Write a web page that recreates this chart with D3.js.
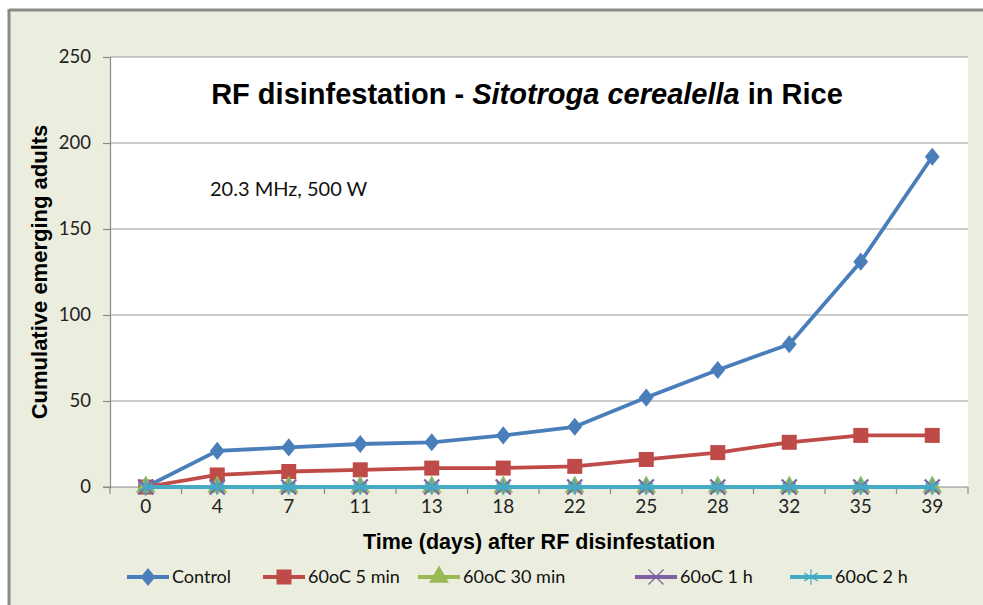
<!DOCTYPE html>
<html>
<head>
<meta charset="utf-8">
<script src="https://cdn.jsdelivr.net/npm/d3@7"></script>
<style>
  body { margin: 0; background: #fff; }
  svg { display: block; }
</style>
</head>
<body>
<div id="chart"></div>
<script>
// data
var days = ["0", "4", "7", "11", "13", "18", "22", "25", "28", "32", "35", "39"];
var seriesNames = ["Control", "60oC 5 min", "60oC 30 min", "60oC 1 h", "60oC 2 h"];
var control = [0, 21, 23, 25, 26, 30, 35, 52, 68, 83, 131, 192];
var min5 = [0, 7, 9, 10, 11, 11, 12, 16, 20, 26, 30, 30];
var min30 = [0, 0, 0, 0, 0, 0, 0, 0, 0, 0, 0, 0];
var hour1 = [0, 0, 0, 0, 0, 0, 0, 0, 0, 0, 0, 0];
var hour2 = [0, 0, 0, 0, 0, 0, 0, 0, 0, 0, 0, 0];
var yTicks = [0, 50, 100, 150, 200, 250];

var colors = ["#4A7EBB", "#BE4B48", "#98B954", "#7D60A0", "#46AAC5"];
var symbols = ["diamond", "square", "triangle", "x", "star"];
var allSeries = [control, min5, min30, hour1, hour2];

var W = 983, H = 605,
  pLeft = 110, pRight = 968, pTop = 57, pBottom = 487;

var svg = d3.select("#chart").append("svg")
  .attr("width", W)
  .attr("height", H);

// background and frame
svg.append("rect").attr("x", 0).attr("y", 0).attr("width", W).attr("height", H).attr("fill", "#fff");
svg.append("rect").attr("x", 9).attr("y", 10).attr("width", W - 9).attr("height", H - 10)
  .attr("fill", "#EBEEDE");
svg.append("line").attr("x1", 9).attr("x2", W).attr("y1", 10).attr("y2", 10)
  .attr("stroke", "#8a8a8a").attr("stroke-width", 3);
svg.append("line").attr("x1", 9).attr("x2", 9).attr("y1", 9).attr("y2", H)
  .attr("stroke", "#8a8a8a").attr("stroke-width", 3);

svg.append("rect").attr("x", pLeft).attr("y", pTop)
  .attr("width", pRight - pLeft).attr("height", pBottom - pTop).attr("fill", "#fff");

var x = d3.scaleBand().domain(days).range([pLeft, pRight]);
var y = d3.scaleLinear().domain([0, 250]).range([pBottom, pTop]);

// gridlines
svg.append("g").selectAll("line").data(yTicks.filter(function (d) { return d > 0; }))
  .enter().append("line")
  .attr("x1", pLeft).attr("x2", pRight)
  .attr("y1", function (d) { return y(d); }).attr("y2", function (d) { return y(d); })
  .attr("stroke", "#9a9a9a").attr("stroke-width", 1.2);

// y axis
var yAxis = svg.append("g").attr("transform", "translate(" + pLeft + ",0)")
  .call(d3.axisLeft(y).tickValues(yTicks).tickSize(7).tickPadding(12));
yAxis.select(".domain").attr("stroke", "#8a8a8a").attr("stroke-width", 1.2);
yAxis.selectAll(".tick line").attr("stroke", "#8a8a8a").attr("stroke-width", 1.2);
yAxis.selectAll("text").attr("font-family", "Lato, 'Open Sans', sans-serif")
  .attr("font-size", 18.5).attr("fill", "#222");

// x axis: ticks between categories
var xg = svg.append("g").attr("transform", "translate(0," + pBottom + ")");
xg.append("line").attr("x1", pLeft - 7).attr("x2", pRight).attr("y1", 0).attr("y2", 0)
  .attr("stroke", "#8a8a8a").attr("stroke-width", 1.2);
xg.selectAll("line.tk").data(d3.range(days.length + 1)).enter().append("line")
  .attr("class", "tk")
  .attr("x1", function (i) { return pLeft + i * x.step(); })
  .attr("x2", function (i) { return pLeft + i * x.step(); })
  .attr("y1", 0).attr("y2", 7)
  .attr("stroke", "#8a8a8a").attr("stroke-width", 1.2);
xg.selectAll("text").data(days).enter().append("text")
  .attr("x", function (d) { return x(d) + x.bandwidth() / 2; })
  .attr("y", 26)
  .attr("text-anchor", "middle")
  .attr("font-family", "Lato, sans-serif")
  .attr("font-size", 19).attr("fill", "#222")
  .text(function (d) { return d; });

// series lines
var line = d3.line()
  .x(function (d, i) { return x(days[i]) + x.bandwidth() / 2; })
  .y(function (d) { return y(d); });

function symbolPath(kind) {
  if (kind === "diamond") { return d3.symbol().type(d3.symbolDiamond2).size(115)(); }
  if (kind === "square") { return d3.symbol().type(d3.symbolSquare).size(225)(); }
  if (kind === "triangle") { return d3.symbol().type(d3.symbolTriangle).size(170)(); }
  if (kind === "x") { return d3.symbol().type(d3.symbolX).size(150)(); }
  return d3.symbol().type(d3.symbolAsterisk).size(170)();
}

allSeries.forEach(function (vals, s) {
  var g = svg.append("g");
  g.append("path").datum(vals).attr("d", line)
    .attr("fill", "none").attr("stroke", colors[s]).attr("stroke-width", 3.8)
    .attr("stroke-linejoin", "round");
  var filled = symbols[s] !== "x" && symbols[s] !== "star";
  g.selectAll("path.m").data(vals).enter().append("path")
    .attr("class", "m")
    .attr("transform", function (d, i) {
      return "translate(" + (x(days[i]) + x.bandwidth() / 2) + "," + y(d) + ")" +
        (symbols[s] === "diamond" ? " scale(1.1,1.35)" : "");
    })
    .attr("d", symbolPath(symbols[s]))
    .attr("fill", filled ? colors[s] : "none")
    .attr("stroke", colors[s])
    .attr("stroke-width", filled ? 0 : 2.2);
});

// titles
var title = svg.append("text").attr("x", 527).attr("y", 104)
  .attr("text-anchor", "middle")
  .attr("font-family", "'Liberation Sans', Arial, sans-serif")
  .attr("font-size", 29).attr("font-weight", "bold").attr("fill", "#000");
title.append("tspan").text("RF disinfestation - ");
title.append("tspan").attr("font-style", "italic").text("Sitotroga cerealella");
title.append("tspan").text(" in Rice");

svg.append("text").attr("x", 210).attr("y", 196)
  .attr("font-family", "Lato, 'Open Sans', sans-serif")
  .attr("font-size", 20).attr("fill", "#111")
  .text("20.3 MHz, 500 W");

svg.append("text")
  .attr("transform", "translate(47," + ((pTop + pBottom) / 2) + ") rotate(-90)")
  .attr("text-anchor", "middle")
  .attr("font-family", "'Liberation Sans', Arial, sans-serif")
  .attr("font-size", 22).attr("font-weight", "bold").attr("fill", "#000")
  .text("Cumulative emerging  adults");

svg.append("text").attr("x", (pLeft + pRight) / 2).attr("y", 549)
  .attr("text-anchor", "middle")
  .attr("font-family", "'Liberation Sans', Arial, sans-serif")
  .attr("font-size", 21.5).attr("font-weight", "bold").attr("fill", "#000")
  .text("Time (days)  after RF disinfestation");

// legend
var legendX = [127, 263, 418, 635, 790];
var lg = svg.append("g").selectAll("g").data(seriesNames).enter().append("g")
  .attr("transform", function (d, i) { return "translate(" + legendX[i] + ",577)"; });
lg.append("line").attr("x1", 0).attr("x2", 42).attr("y1", 0).attr("y2", 0)
  .attr("stroke", function (d, i) { return colors[i]; }).attr("stroke-width", 3.8);
lg.append("path")
  .attr("transform", function (d, i) {
    return "translate(21,0)" + (symbols[i] === "diamond" ? " scale(1.1,1.35)" : "");
  })
  .attr("d", function (d, i) { return symbolPath(symbols[i]); })
  .attr("fill", function (d, i) { return (symbols[i] === "x" || symbols[i] === "star") ? "none" : colors[i]; })
  .attr("stroke", function (d, i) { return colors[i]; })
  .attr("stroke-width", function (d, i) { return (symbols[i] === "x" || symbols[i] === "star") ? 1.2 : 0; });
lg.append("text").attr("x", 45).attr("y", 6)
  .attr("font-family", "Lato, sans-serif")
  .attr("font-size", 18).attr("fill", "#111")
  .text(function (d) { return d; });
</script>
</body>
</html>
